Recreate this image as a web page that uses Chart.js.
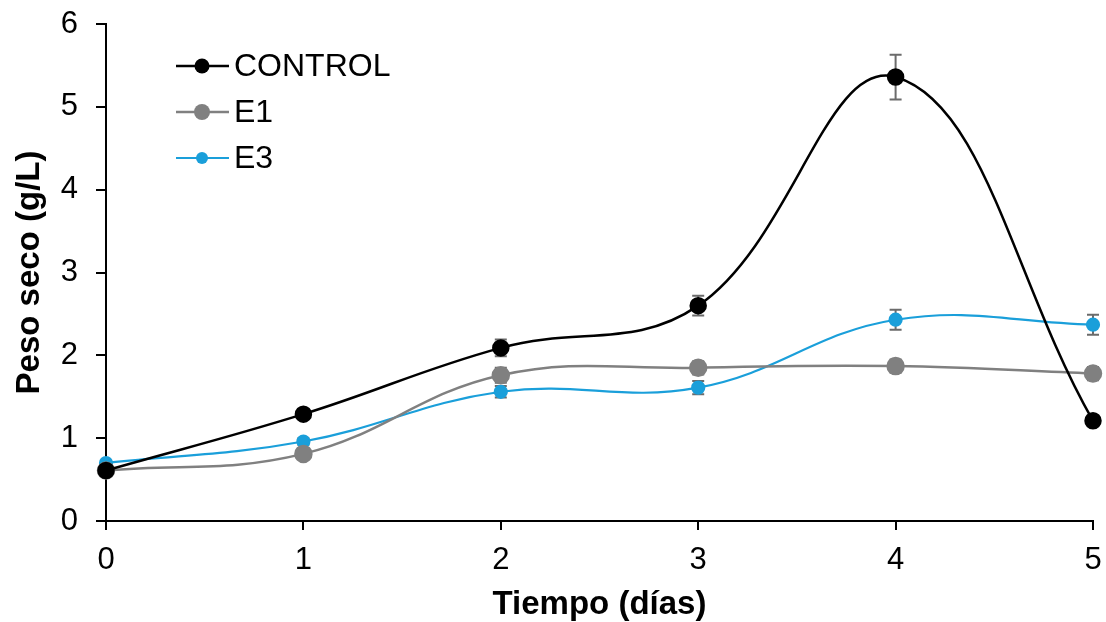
<!DOCTYPE html>
<html>
<head>
<meta charset="utf-8">
<script src="https://cdn.jsdelivr.net/npm/chart.js@4.4.1/dist/chart.umd.min.js"></script>
<style>
  html, body { margin: 0; padding: 0; background: #fff; }
  #wrap { width: 1106px; height: 622px; }
</style>
</head>
<body>
<div id="wrap"><canvas id="chart"></canvas></div>
<script>
// data
const days = [0, 1, 2, 3, 4, 5];
const control = [0.61, 1.29, 2.09, 2.60, 5.36, 1.21];
const controlErr = [0.02, 0.03, 0.10, 0.12, 0.27, 0.03];
const e1 = [0.61, 0.81, 1.76, 1.85, 1.87, 1.78];
const e1Err = [0.02, 0.03, 0.09, 0.08, 0.08, 0.08];
const e3 = [0.70, 0.96, 1.56, 1.61, 2.43, 2.37];
const e3Err = [0.02, 0.04, 0.07, 0.08, 0.12, 0.12];
const yTicks = [0, 1, 2, 3, 4, 5, 6];

const FONT = "'Liberation Sans', Arial, sans-serif";

function pts(vals) {
  return vals.map((v, i) => ({ x: days[i], y: v }));
}

// error bars, behind the markers
const errorBars = {
  id: 'errorBars',
  beforeDatasetsDraw(chart) {
    const ctx = chart.ctx;
    const xs = chart.scales.x, ys = chart.scales.y;
    ctx.save();
    ctx.strokeStyle = '#6b6b6b';
    ctx.lineWidth = 2;
    chart.data.datasets.forEach(ds => {
      ds.data.forEach((p, i) => {
        const e = ds.err[i];
        const px = xs.getPixelForValue(p.x);
        const top = ys.getPixelForValue(p.y + e);
        const bot = ys.getPixelForValue(p.y - e);
        ctx.beginPath();
        ctx.moveTo(px, top); ctx.lineTo(px, bot);
        ctx.moveTo(px - 6, top); ctx.lineTo(px + 6, top);
        ctx.moveTo(px - 6, bot); ctx.lineTo(px + 6, bot);
        ctx.stroke();
      });
    });
    ctx.restore();
  }
};

// legend: line with marker, inside the plot
const lineLegend = {
  id: 'lineLegend',
  afterDraw(chart) {
    const ctx = chart.ctx;
    ctx.save();
    ctx.font = '32px ' + FONT;
    ctx.textBaseline = 'middle';
    chart.data.datasets.forEach((ds, i) => {
      const y = 66 + i * 46;
      ctx.strokeStyle = ds.borderColor;
      ctx.lineWidth = ds.borderWidth;
      ctx.beginPath();
      ctx.moveTo(176, y); ctx.lineTo(229, y);
      ctx.stroke();
      ctx.fillStyle = ds.pointBackgroundColor;
      ctx.beginPath();
      ctx.arc(202, y, ds.pointRadius, 0, Math.PI * 2);
      ctx.fill();
      ctx.fillStyle = '#000';
      ctx.fillText(ds.label, 234, y + 1);
    });
    ctx.restore();
  }
};

new Chart(document.getElementById('chart'), {
  type: 'line',
  data: {
    datasets: [
      { label: 'CONTROL', data: pts(control), err: controlErr,
        borderColor: '#000', pointBackgroundColor: '#000', pointBorderColor: '#000',
        borderWidth: 2.5, pointRadius: 7.5 },
      { label: 'E1', data: pts(e1), err: e1Err,
        borderColor: '#808080', pointBackgroundColor: '#808080', pointBorderColor: '#808080',
        borderWidth: 2.5, pointRadius: 8 },
      { label: 'E3', data: pts(e3), err: e3Err,
        borderColor: '#1a9fda', pointBackgroundColor: '#1a9fda', pointBorderColor: '#1a9fda',
        borderWidth: 2.2, pointRadius: 6 }
    ]
  },
  options: {
    responsive: true,
    maintainAspectRatio: false,
    animation: false,
    clip: false,
    elements: { line: { tension: 0.4, fill: false }, point: { borderWidth: 0, hoverRadius: 8 } },
    layout: { padding: { top: 0, right: 0, left: 6, bottom: 0 } },
    plugins: { legend: { display: false }, tooltip: { enabled: false } },
    scales: {
      x: {
        type: 'linear', min: 0, max: 5,
        afterFit(scale) { scale.height = 101; scale.paddingRight = 13; },
        ticks: { stepSize: 1, color: '#000', font: { family: FONT, size: 31 }, padding: 12 },
        grid: { drawOnChartArea: false, drawTicks: true, tickLength: 9, color: '#000', lineWidth: 2 },
        border: { color: '#000', width: 2 },
        title: { display: true, text: 'Tiempo (días)', color: '#000',
                 font: { family: FONT, size: 33, weight: 'bold' }, padding: { top: 2, bottom: -3 } }
      },
      y: {
        min: 0, max: 6,
        afterBuildTicks(axis) { axis.ticks = yTicks.map(v => ({ value: v })); },
        afterFit(scale) { scale.width = 100; scale.paddingTop = 24; scale.paddingBottom = 0; },
        ticks: { color: '#000', font: { family: FONT, size: 31 }, padding: 18 },
        grid: { drawOnChartArea: false, drawTicks: true, tickLength: 10, color: '#000', lineWidth: 2 },
        border: { color: '#000', width: 2 },
        title: { display: true, text: 'Peso seco (g/L)', color: '#000',
                 font: { family: FONT, size: 33, weight: 'bold' }, padding: { top: 4, bottom: 10 } }
      }
    }
  },
  plugins: [errorBars, lineLegend]
});
</script>
</body>
</html>
